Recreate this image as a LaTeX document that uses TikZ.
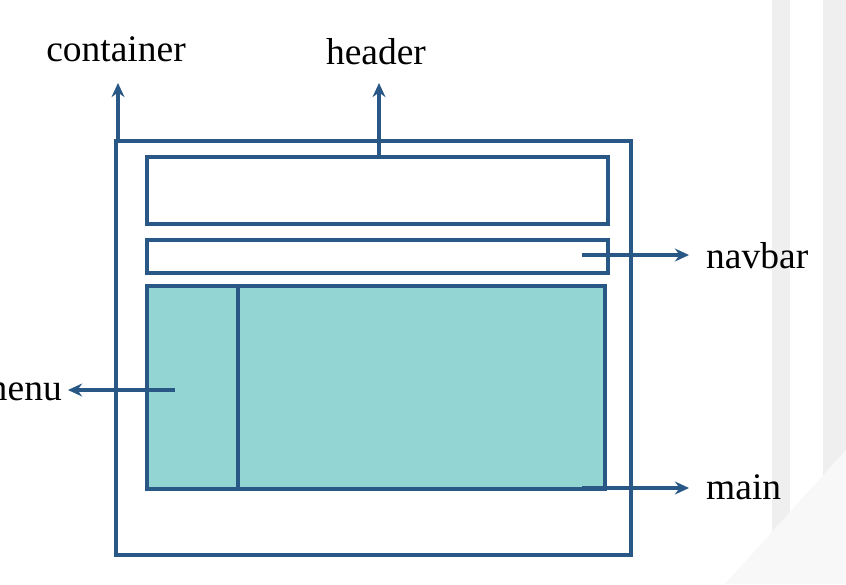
\documentclass[tikz,border=0pt]{standalone}
\usepackage{fontspec}
\setmainfont{Liberation Serif}
\usetikzlibrary{arrows.meta}
\definecolor{lineblue}{HTML}{2A5886}
\definecolor{tealfill}{HTML}{93D5D3}
\definecolor{stripe}{HTML}{EFEFEF}
\definecolor{lightarea}{HTML}{F8F8F8}
\tikzset{
  box/.style={draw=lineblue, line width=2.7pt, inner sep=0pt, outer sep=0pt, anchor=north west},
  arr/.style={draw=lineblue, line width=2.7pt, -{Stealth[length=12pt,width=11pt]}},
  lab/.style={font=\fontsize{32}{36}\selectfont, inner sep=0pt, text=black}
}
\begin{document}
\begin{tikzpicture}[x=0.03cm, y=-0.03cm]
\useasboundingbox (0,0) rectangle (846,584);
% background
\fill[white] (0,0) rectangle (846,584);
\begin{scope}
\clip (0,0) -- (846,0) -- (846,450) -- (725,584) -- (0,584) -- cycle;
\fill[stripe] (772,0) rectangle (790,584);
\fill[stripe] (823,0) rectangle (846,584);
\end{scope}
\fill[lightarea] (846,450) -- (725,584) -- (846,584) -- cycle;
% boxes
\node[box, minimum width={515*0.03cm}, minimum height={414*0.03cm}] (container) at (116,141) {};
\node[box, minimum width={461*0.03cm}, minimum height={67*0.03cm}] (header) at (147,157) {};
\node[box, minimum width={461*0.03cm}, minimum height={33*0.03cm}] (navbar) at (147,240) {};
\node[box, fill=tealfill, minimum width={458*0.03cm}, minimum height={203*0.03cm}] (main) at (147,286) {};
\node[box, fill=tealfill, minimum width={91*0.03cm}, minimum height={203*0.03cm}] (menu) at (147,286) {};
% labels
\node[lab, anchor=base] (clab) at (116,61) {container};
\node[lab, anchor=base] (hlab) at (376,64) {header};
\node[lab, anchor=base west] (nlab) at (706,268) {navbar};
\node[lab, anchor=base west] (mlab) at (706,499) {main};
\node[lab, anchor=base east] (menulab) at (62,400) {menu};
% connector points
\coordinate (ctip) at (118,83);
\coordinate (cstart) at (118,141);
\coordinate (htip) at (379,83);
\coordinate (hstart) at (379,157);
\coordinate (nstart) at (582,255);
\coordinate (ntip) at (689,255);
\coordinate (mstart) at (582,488);
\coordinate (mtip) at (689,488);
\coordinate (menustart) at (175,390);
\coordinate (menutip) at (68,390);
% connectors
\draw[arr] (cstart) -- (ctip);
\draw[arr] (hstart) -- (htip);
\draw[arr] (nstart) -- (ntip);
\draw[arr] (mstart) -- (mtip);
\draw[arr] (menustart) -- (menutip);
\end{tikzpicture}
\end{document}
